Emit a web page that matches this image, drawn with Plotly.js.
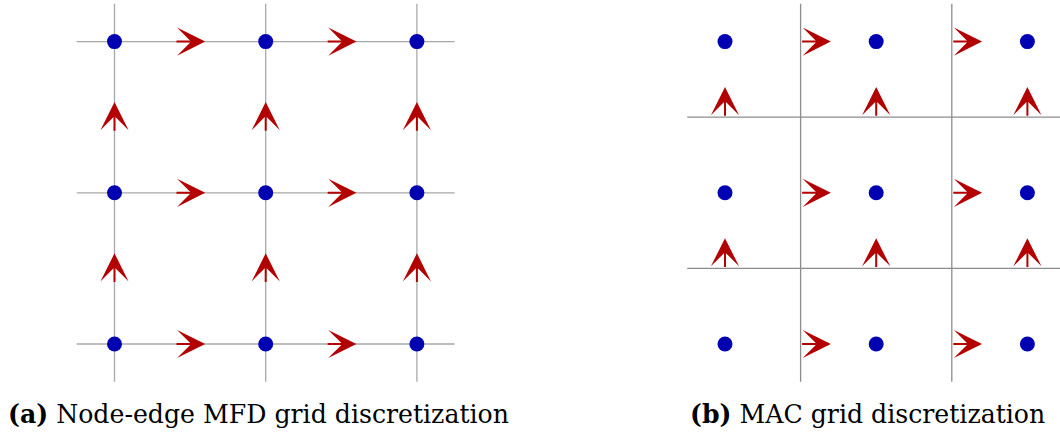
<!DOCTYPE html>
<html>
<head>
<meta charset="utf-8">
<script src="https://cdn.plot.ly/plotly-3.0.1.min.js"></script>
<style>html,body{margin:0;padding:0;background:#fff;}#chart{width:1060px;height:435px;}</style>
</head>
<body>
<div id="chart"></div>
<script>
// ---- data ----
// (a) node-edge MFD grid: nodes at integer positions, fluxes on edge midpoints
const mfdNodes = [0, 1, 2];
const mfdEdgeMids = [0.5, 1.5];
// (b) MAC grid: pressures at cell centres, velocities on cell faces
const macCentres = [0.5, 1.5, 2.5];
const macFaces = [1, 2];
const captions = ["<b>(a)</b> Node-edge MFD grid discretization", "<b>(b)</b> MAC grid discretization"];

// ---- styles ----
const W = 1060, H = 435, U = 151.2;
const dotColor = '#0000b3', arrowColor = '#b30000';
const lineColorA = '#a8a8a8', lineColorB = '#8c8c8c';

function range(px0, pxLen, origin) {
  return [-origin / U, (pxLen - origin) / U];
}

const traces = [];
const annotations = [];

// ---- panel (a) ----
{
  const lx = [], ly = [];
  mfdNodes.forEach(v => {
    lx.push(-0.25, 2.25, null); ly.push(v, v, null);
    lx.push(v, v, null); ly.push(-0.25, 2.25, null);
  });
  traces.push({x: lx, y: ly, mode: 'lines', line: {color: lineColorA, width: 1.3},
    xaxis: 'x', yaxis: 'y', hoverinfo: 'skip', showlegend: false});
  const dx = [], dy = [];
  mfdNodes.forEach(i => mfdNodes.forEach(j => { dx.push(i); dy.push(j); }));
  traces.push({x: dx, y: dy, mode: 'markers', marker: {size: 15, color: dotColor},
    xaxis: 'x', yaxis: 'y', hoverinfo: 'skip', showlegend: false});
  const h = 0.1;
  mfdEdgeMids.forEach(m => mfdNodes.forEach(n => {
    annotations.push({xref: 'x', yref: 'y', axref: 'x', ayref: 'y', x: m + h, y: n, ax: m - h, ay: n});
    annotations.push({xref: 'x', yref: 'y', axref: 'x', ayref: 'y', x: n, y: m + h, ax: n, ay: m - h});
  }));
}

// ---- panel (b) ----
{
  const lx = [], ly = [];
  macFaces.forEach(v => {
    lx.push(v, v, null); ly.push(0.25, 2.75, null);
    lx.push(0.25, 2.8, null); ly.push(v, v, null);
  });
  traces.push({x: lx, y: ly, mode: 'lines', line: {color: lineColorB, width: 1.3},
    xaxis: 'x2', yaxis: 'y2', hoverinfo: 'skip', showlegend: false});
  const dx = [], dy = [];
  macCentres.forEach(i => macCentres.forEach(j => { dx.push(i); dy.push(j); }));
  traces.push({x: dx, y: dy, mode: 'markers', marker: {size: 15, color: dotColor},
    xaxis: 'x2', yaxis: 'y2', hoverinfo: 'skip', showlegend: false});
  const L = 0.2;
  macFaces.forEach(f => macCentres.forEach(c => {
    annotations.push({xref: 'x2', yref: 'y2', axref: 'x2', ayref: 'y2', x: f + L, y: c, ax: f, ay: c});
    annotations.push({xref: 'x2', yref: 'y2', axref: 'x2', ayref: 'y2', x: c, y: f + L, ax: c, ay: f});
  }));
}

annotations.forEach(a => Object.assign(a, {text: '', showarrow: true, arrowhead: 3,
  arrowwidth: 2, arrowsize: 2.35, arrowcolor: arrowColor, standoff: 0, startstandoff: 0}));

// captions
const capFont = {family: 'DejaVu Serif, serif', size: 25.2, color: '#000'};
annotations.push({xref: 'paper', yref: 'paper', x: 6 / W, y: 1 - 431 / H, xanchor: 'left', yanchor: 'bottom',
  text: captions[0], showarrow: false, font: capFont});
annotations.push({xref: 'paper', yref: 'paper', x: 688 / W, y: 1 - 431 / H, xanchor: 'left', yanchor: 'bottom',
  text: captions[1], showarrow: false, font: capFont});

const ax = (dom, rng) => ({domain: dom, range: rng, visible: false, fixedrange: true,
  showgrid: false, zeroline: false});

const layout = {
  width: W, height: H,
  margin: {l: 0, r: 0, t: 0, b: 0},
  paper_bgcolor: '#fff', plot_bgcolor: '#fff',
  xaxis: ax([0, 0.5], range(0, 530, 114.5)),
  yaxis: ax([0, 1], range(0, H, H - 344)),
  xaxis2: ax([0.5, 1], range(0, 530, 725 - 530 - 0.5 * U)),
  yaxis2: ax([0, 1], range(0, H, H - 344 - 0.5 * U)),
  annotations: annotations,
  showlegend: false
};
layout.yaxis2.anchor = 'x2';
layout.xaxis2.anchor = 'y2';

Plotly.newPlot('chart', traces, layout, {displayModeBar: false, staticPlot: true});
</script>
</body>
</html>
